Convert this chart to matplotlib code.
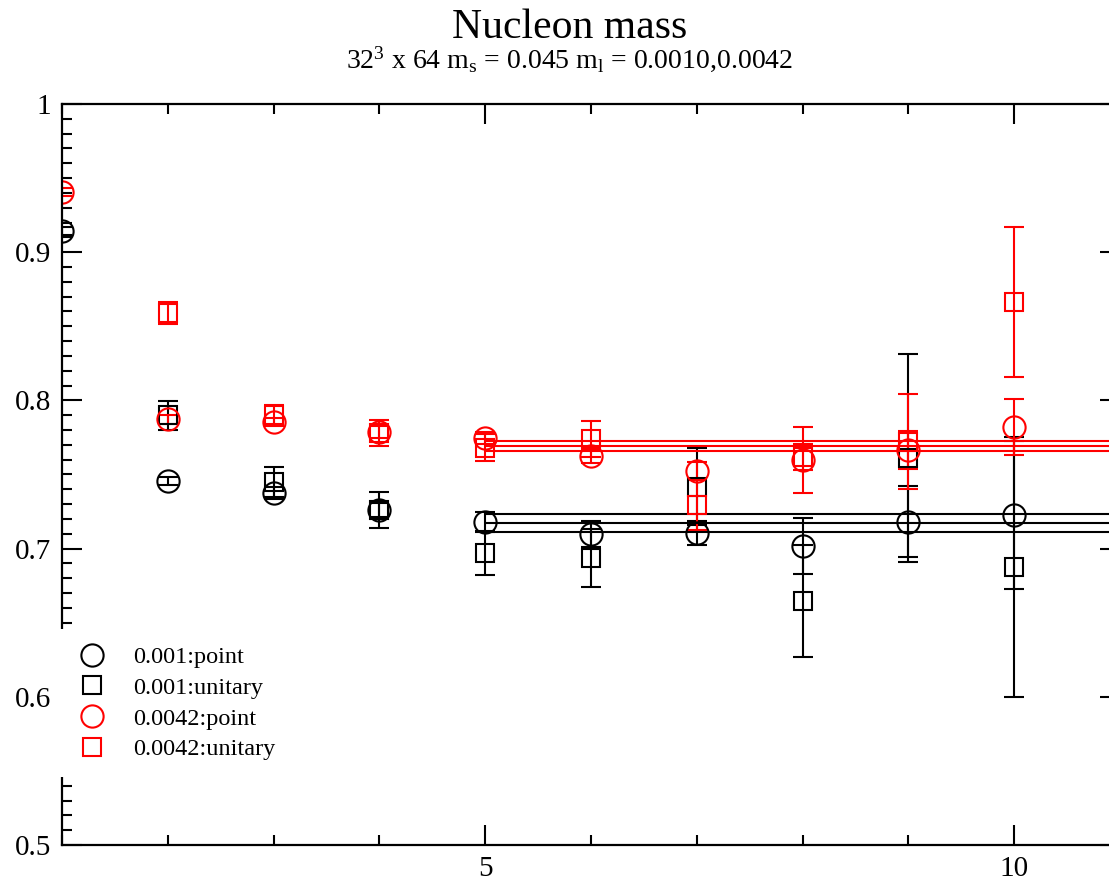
import numpy as np
import matplotlib
matplotlib.use('Agg')
import matplotlib.pyplot as plt
from matplotlib.lines import Line2D
from matplotlib.ticker import MultipleLocator

plt.rcParams['font.family'] = ['Liberation Serif', 'DejaVu Serif']
plt.rcParams['mathtext.fontset'] = 'custom'
plt.rcParams['mathtext.rm'] = 'Liberation Serif'
plt.rcParams['mathtext.it'] = 'Liberation Serif:italic'

# effective mass per timeslice, m_l = 0.001
t_pt_001 = [1, 2, 3, 4, 5, 6, 7, 8, 9, 10]
m_pt_001 = [0.9143, 0.7456, 0.7375, 0.726, 0.718, 0.7098, 0.7105, 0.7017, 0.718, 0.7227]
e_pt_001 = [0.003, 0.003, 0.004, 0.005, 0.007, 0.009, 0.008, 0.019, 0.024, 0.05]

t_un_001 = [2, 3, 4, 5, 6, 7, 8, 9, 10]
m_un_001 = [0.790, 0.745, 0.726, 0.697, 0.6937, 0.7416, 0.6646, 0.761, 0.6876]
e_un_001 = [0.0098, 0.0101, 0.012, 0.015, 0.0195, 0.026, 0.0378, 0.07, 0.088]

# m_l = 0.0042
t_pt_0042 = [1, 2, 3, 4, 5, 6, 7, 8, 9, 10]
m_pt_0042 = [0.9406, 0.7874, 0.7854, 0.7787, 0.7746, 0.7625, 0.7524, 0.7598, 0.7665, 0.782]
e_pt_0042 = [0.003, 0.003, 0.003, 0.004, 0.004, 0.005, 0.006, 0.022, 0.013, 0.019]

t_un_0042 = [2, 3, 4, 5, 6, 7, 8, 9, 10]
m_un_0042 = [0.859, 0.7902, 0.778, 0.768, 0.774, 0.7294, 0.7618, 0.772, 0.8664]
e_un_0042 = [0.0075, 0.0065, 0.0085, 0.009, 0.012, 0.017, 0.0085, 0.032, 0.0506]

# plateau fits (value, error) over t >= 5
fit_range = [5, 11]
fit_001 = (0.7175, 0.006)
fit_0042 = (0.7693, 0.0034)

series = [
  ('0.001:point', t_pt_001, m_pt_001, e_pt_001, 'o', 'black'),
  ('0.001:unitary', t_un_001, m_un_001, e_un_001, 's', 'black'),
  ('0.0042:point', t_pt_0042, m_pt_0042, e_pt_0042, 'o', 'red'),
  ('0.0042:unitary', t_un_0042, m_un_0042, e_un_0042, 's', 'red'),
]

W, H = 1109, 880
fig = plt.figure(figsize=(W/100, H/100), dpi=100)
# frame runs a bit past the right edge of the canvas
ax = fig.add_axes([62/W, 1 - 845/H, 1058/W, 741/H])

msize = {'o': 16, 's': 13}
handles = []
for label, t, m, e, mk, col in series:
  ax.errorbar(t, m, yerr=e, fmt=mk, ms=msize[mk], mfc='none', mec=col, mew=1.5,
              ecolor=col, elinewidth=1.5, capsize=7.5, capthick=1.5, color=col)
  handles.append(Line2D([], [], ls='none', marker=mk, ms=msize[mk], mfc='none', mec=col, mew=1.5, label=label))

for (val, err), col in [(fit_001, 'black'), (fit_0042, 'red')]:
  for y in (val - err, val, val + err):
    ax.hlines(y, fit_range[0], fit_range[1], color=col, lw=1.5)

ax.set_xlim(1, 11)
ax.set_ylim(0.5, 1.0)
ax.xaxis.set_major_locator(MultipleLocator(5))
ax.xaxis.set_minor_locator(MultipleLocator(1))
ax.yaxis.set_major_locator(MultipleLocator(0.1))
ax.yaxis.set_minor_locator(MultipleLocator(0.01))
ax.set_yticks([0.5, 0.6, 0.7, 0.8, 0.9, 1.0], ['0.5', '0.6', '0.7', '0.8', '0.9', '1'])
ax.set_xticks([5, 10], ['5', '10'])
ax.tick_params(which='both', direction='in', top=True, right=True, width=1.5, labelsize=21)
ax.tick_params(which='major', length=14.5, pad=8)
ax.tick_params(which='minor', length=7.2)
for s in ax.spines.values():
  s.set_linewidth(1.6)

# white legend box sits over the left spine
leg = ax.legend(handles=handles, loc='upper left', bbox_to_anchor=(60/W, 1 - 629/H),
                bbox_transform=fig.transFigure, borderaxespad=0, fontsize=17.5,
                frameon=True, fancybox=False, facecolor='white', edgecolor='none', framealpha=1,
                handlelength=1.2, handletextpad=1.1, labelspacing=0.36, borderpad=0.7)

fig.text(570/W, 1 - 38/H, 'Nucleon mass', ha='center', va='baseline', fontsize=30)
fig.text(570/W, 1 - 68/H, r'32$^{3}$ x 64 m$_{\mathrm{s}}$ = 0.045 m$_{\mathrm{l}}$ = 0.0010,0.0042',
         ha='center', va='baseline', fontsize=20)

fig.savefig('out.png', dpi=100)
